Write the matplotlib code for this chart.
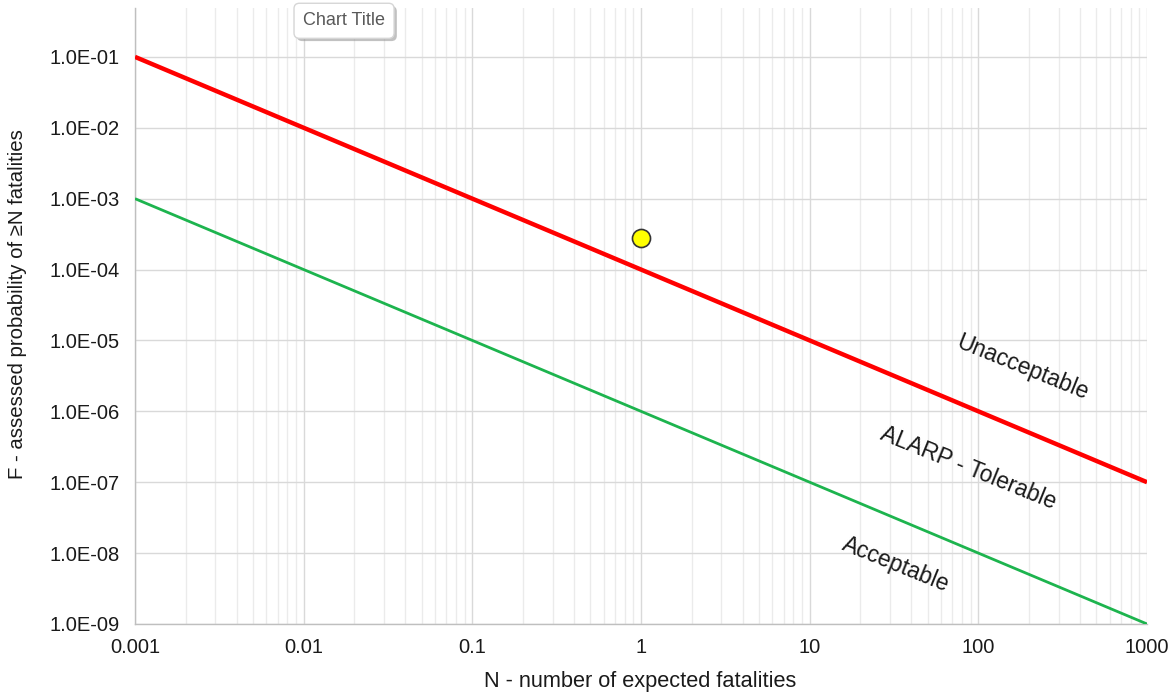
import matplotlib.pyplot as plt
import matplotlib.ticker as mticker
import matplotlib.patheffects as pe
import numpy as np

plt.rcParams["font.family"] = ["Liberation Sans", "DejaVu Sans"]

# F-N criterion lines (end points) and assessed point
n_limits = [0.001, 1000]
unacceptable_f = [1e-1, 1e-7]
acceptable_f = [1e-3, 1e-9]
point_n = [1]
point_f = [2.75e-4]

x_ticks = [0.001, 0.01, 0.1, 1, 10, 100, 1000]
x_ticklabels = ["0.001", "0.01", "0.1", "1", "10", "100", "1000"]
y_ticks = [1e-9, 1e-8, 1e-7, 1e-6, 1e-5, 1e-4, 1e-3, 1e-2, 1e-1]

# region labels: (text, N, F)
region_labels = [
    ("Unacceptable", 182, 4.2e-6),
    ("ALARP - Tolerable", 87, 1.6e-7),
    ("Acceptable", 32.5, 6.8e-9),
]

fig = plt.figure(figsize=(11.75, 6.93), dpi=100)
ax = fig.add_axes([0.1149, 0.0996, 0.8613, 0.8889])

ax.plot(n_limits, unacceptable_f, color="#ff0000", lw=3.2, solid_capstyle="butt", zorder=3)
ax.plot(n_limits, acceptable_f, color="#1db44e", lw=2.0, solid_capstyle="butt", zorder=3)
ax.plot(point_n, point_f, "o", color="#ffff00", mec="#333333", mew=1.2, ms=13, zorder=4)

ax.set_xscale("log")
ax.set_yscale("log")
ax.set_xlim(0.001, 1000)
ax.set_ylim(1e-9, 0.49)

ax.set_xticks(x_ticks)
ax.set_xticklabels(x_ticklabels)
ax.set_yticks(y_ticks)
ax.yaxis.set_major_formatter(mticker.FuncFormatter(lambda v, p: "{:.1E}".format(v)))
ax.xaxis.set_minor_locator(mticker.LogLocator(base=10, subs=np.arange(2, 10), numticks=20))
ax.yaxis.set_minor_locator(mticker.NullLocator())
ax.xaxis.set_minor_formatter(mticker.NullFormatter())

ax.grid(True, which="major", color="#d9d9d9", lw=1.0)
ax.grid(True, which="minor", axis="x", color="#ebebeb", lw=1.0)
ax.set_axisbelow(True)
ax.tick_params(which="both", length=0, labelsize=14.5, colors="#1a1a1a")
ax.tick_params(axis="x", pad=10)
ax.tick_params(axis="y", pad=11)

for s in ["top", "right"]:
    ax.spines[s].set_visible(False)
for s in ["left", "bottom"]:
    ax.spines[s].set_color("#bfbfbf")
    ax.spines[s].set_linewidth(1.0)

for txt, xn, yf in region_labels:
    ax.text(xn, yf, txt, rotation=-22, ha="center", va="center",
            fontsize=16.5, color="#1a1a1a", rotation_mode="anchor")

fig.text(0.545, 0.032, "N - number of expected fatalities", ha="center", va="top",
         fontsize=15.7, color="#1a1a1a")
fig.text(0.0145, 0.561, "F - assessed probability of \u2265N fatalities", rotation=90,
         ha="center", va="center", fontsize=14.7, color="#1a1a1a")

title = fig.text(0.2928, 0.97, "Chart Title", ha="center", va="center", fontsize=13,
                 color="#595959",
                 bbox=dict(boxstyle="round,pad=0.5,rounding_size=0.3", fc="white",
                           ec="#d6d6d6", lw=1.0))
title.get_bbox_patch().set_path_effects(
    [pe.SimplePatchShadow(offset=(2, -2), shadow_rgbFace="#999999", alpha=0.6), pe.Normal()])

fig.savefig("out.png", dpi=100)
